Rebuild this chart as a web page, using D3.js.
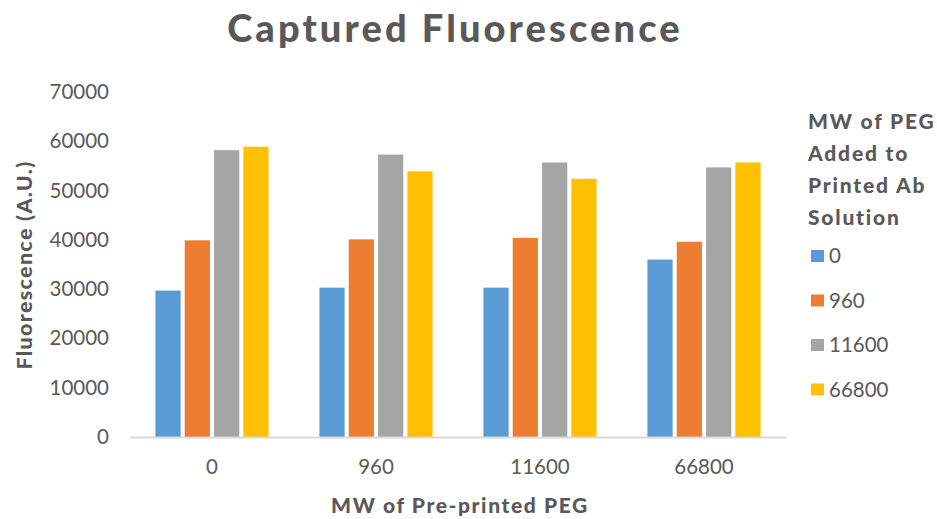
<!DOCTYPE html>
<html>
<head>
<meta charset="utf-8">
<script src="https://cdn.jsdelivr.net/npm/d3@7"></script>
<style>
  body { margin: 0; background: #fff; }
  text { font-family: Lato, "Open Sans", sans-serif; fill: #595959; }
</style>
</head>
<body>
<div id="chart"></div>
<script>
// data
const groups = ["0", "960", "11600", "66800"];          // MW of pre-printed PEG
const seriesNames = ["0", "960", "11600", "66800"];     // MW of PEG added
const colors = ["#5B9BD5", "#ED7D31", "#A5A5A5", "#FFC000"];
const s0 = [29700, 30300, 30300, 36000];
const s960 = [39900, 40100, 40400, 39600];
const s11600 = [58200, 57300, 55700, 54700];
const s66800 = [58900, 53900, 52400, 55700];
const yTicks = [0, 10000, 20000, 30000, 40000, 50000, 60000, 70000];

const width = 937, height = 519;
const margin = { top: 92, bottom: 82, left: 130, right: 151 };

const series = [s0, s960, s11600, s66800];

const svg = d3.select("#chart").append("svg")
  .attr("width", width)
  .attr("height", height);

const x0 = d3.scaleBand()
  .domain(groups)
  .range([margin.left, width - margin.right])
  .paddingInner(0.31)
  .paddingOuter(0.155);

const x1 = d3.scaleBand()
  .domain(seriesNames)
  .range([0, x0.bandwidth()])
  .paddingInner(0.14);

const y = d3.scaleLinear()
  .domain([0, 70000])
  .range([height - margin.bottom, margin.top]);

// title
svg.append("text")
  .attr("x", 455)
  .attr("y", 42)
  .attr("text-anchor", "middle")
  .attr("font-size", 38)
  .attr("font-weight", 900)
  .attr("letter-spacing", 3.1)
  .text("Captured Fluorescence");

// y axis labels (no line)
const yAxis = svg.append("g")
  .attr("transform", `translate(${margin.left},0)`)
  .call(d3.axisLeft(y).tickValues(yTicks).tickSize(0).tickPadding(21).tickFormat(d3.format("d")));
yAxis.select(".domain").remove();
yAxis.selectAll("text")
  .attr("font-size", 20.5)
  .style("font-family", "Lato, sans-serif")
  .attr("fill", "#595959");

// bars
const rows = groups.map((g, i) => ({ g, vals: series.map((s, j) => ({ k: seriesNames[j], v: s[i], c: colors[j] })) }));

svg.append("g")
  .selectAll("g")
  .data(rows)
  .join("g")
  .attr("transform", d => `translate(${x0(d.g)},0)`)
  .selectAll("rect")
  .data(d => d.vals)
  .join("rect")
  .attr("x", d => x1(d.k))
  .attr("y", d => y(d.v))
  .attr("width", x1.bandwidth())
  .attr("height", d => y(0) - y(d.v))
  .attr("fill", d => d.c);

// x axis
const xAxis = svg.append("g")
  .attr("transform", `translate(0,${y(0)})`)
  .call(d3.axisBottom(x0).tickSize(0).tickPadding(22));
xAxis.select(".domain").attr("stroke", "#D9D9D9").attr("stroke-width", 2);
xAxis.selectAll("text")
  .attr("font-size", 20.5)
  .style("font-family", "Lato, sans-serif")
  .attr("fill", "#595959");

// axis titles
svg.append("text")
  .attr("x", 460)
  .attr("y", 513)
  .attr("text-anchor", "middle")
  .attr("font-size", 21)
  .attr("font-weight", 900)
  .attr("letter-spacing", 1.6)
  .text("MW of Pre-printed PEG");

svg.append("text")
  .attr("transform", `translate(32,265) rotate(-90)`)
  .attr("text-anchor", "middle")
  .attr("font-size", 21.5)
  .attr("font-weight", 900)
  .attr("letter-spacing", 1.3)
  .text("Fluorescence (A.U.)");

// legend
const legend = svg.append("g").attr("transform", "translate(808,0)");
["MW of PEG", "Added to", "Printed Ab", "Solution"].forEach((t, i) => {
  legend.append("text")
    .attr("x", 0)
    .attr("y", 129 + i * 32)
    .attr("font-size", 21)
    .attr("font-weight", 900)
    .attr("letter-spacing", 1.8)
    .text(t);
});
const items = legend.selectAll(".item")
  .data(seriesNames)
  .join("g")
  .attr("class", "item")
  .attr("transform", (d, i) => `translate(0,${256 + i * 44.5})`);
items.append("rect")
  .attr("x", 3).attr("y", -6)
  .attr("width", 13).attr("height", 12)
  .attr("fill", (d, i) => colors[i]);
items.append("text")
  .attr("x", 21).attr("y", 7)
  .attr("font-size", 20.5)
  .text(d => d);
</script>
</body>
</html>
